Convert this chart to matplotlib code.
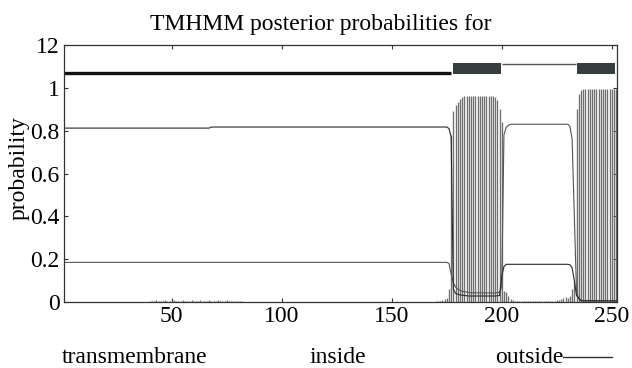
import matplotlib
matplotlib.use("Agg")
import matplotlib.pyplot as plt
from matplotlib.patches import Rectangle

# ---------------- data ----------------
# transmembrane posterior probability (impulses) per sequence position
noise_pos = list(range(40, 83))
noise_val = [0.006, 0.007, 0.006, 0.008, 0.007, 0.006, 0.007, 0.008, 0.006, 0.007,
             0.006, 0.008, 0.007, 0.006, 0.007, 0.008, 0.006, 0.007, 0.006, 0.008,
             0.007, 0.006, 0.007, 0.008, 0.006, 0.007, 0.006, 0.008, 0.007, 0.006,
             0.007, 0.008, 0.006, 0.007, 0.006, 0.008, 0.007, 0.006, 0.007, 0.006,
             0.005, 0.005, 0.004]
tm_pos = list(range(170, 253))
tm_val = [0.003, 0.004, 0.005, 0.008, 0.012, 0.02, 0.06,                 # 170-176
          0.78, 0.89, 0.92, 0.935, 0.95, 0.955,                          # 177-182
          0.96, 0.96, 0.96, 0.96, 0.96, 0.96, 0.96, 0.96, 0.96, 0.96,    # 183-192
          0.96, 0.96, 0.96, 0.96, 0.955, 0.945, 0.90, 0.84,              # 193-200
          0.05, 0.045, 0.03, 0.015, 0.01,                                # 201-205
          0.004, 0.005, 0.004, 0.006, 0.004, 0.005, 0.004, 0.006, 0.004, 0.005,  # 206-215
          0.004, 0.006, 0.004, 0.005, 0.004, 0.006, 0.004, 0.005, 0.006, 0.008,  # 216-225
          0.01, 0.015, 0.02, 0.025, 0.02, 0.03, 0.06, 0.10,              # 226-233
          0.90, 0.97, 0.99,                                              # 234-236
          0.995, 0.995, 0.995, 0.995, 0.995, 0.995, 0.995, 0.995, 0.995, 0.995,  # 237-246
          0.995, 0.995, 0.995, 0.995, 0.995, 0.995]                      # 247-252

# inside probability line (break points)
inside_x = [1, 67, 68, 175, 176, 177, 178, 179, 181, 185, 197, 199, 200, 201, 202,
            230, 231, 232, 233, 234, 236, 252]
inside_y = [0.812, 0.812, 0.817, 0.817, 0.81, 0.77, 0.06, 0.04, 0.033, 0.028, 0.028,
            0.03, 0.12, 0.165, 0.176, 0.176, 0.174, 0.16, 0.10, 0.03, 0.006, 0.005]

# outside probability line (break points)
outside_x = [1, 175, 176, 177, 178, 179, 180, 182, 186, 197, 199, 200, 201, 202, 203,
             204, 230, 231, 232, 233, 234, 235, 237, 252]
outside_y = [0.185, 0.185, 0.18, 0.13, 0.09, 0.07, 0.06, 0.05, 0.043, 0.042, 0.045,
             0.07, 0.78, 0.815, 0.825, 0.83, 0.83, 0.82, 0.76, 0.40, 0.05, 0.015,
             0.005, 0.005]

# predicted topology shown at the top
inside_seg = (1, 176.8)
outside_seg = (200.3, 233.8)
tm_segs = [(177.7, 199.7), (234.3, 251.6)]

x_ticks = [50, 100, 150, 200, 250]
y_ticks = [0, 0.2, 0.4, 0.6, 0.8, 1.0, 1.2]
y_tick_labels = ["0", "0.2", "0.4", "0.6", "0.8", "1", "12"]

title = "TMHMM posterior probabilities for"
legend_labels = ["transmembrane", "inside", "outside"]

# ---------------- drawing ----------------
plt.rcParams['font.family'] = ['Liberation Serif', 'DejaVu Serif']
FS = 17

fig = plt.figure(figsize=(6.32, 3.68), dpi=100)
ax = fig.add_axes([64 / 632, 1 - 302 / 368, (617 - 64) / 632, (302 - 45) / 368])

ax.vlines(noise_pos, 0, noise_val, color='#6e6e6e', linewidth=0.95)
ax.vlines(tm_pos, 0, tm_val, color='#6e6e6e', linewidth=0.95)
ax.plot(outside_x, outside_y, color='#555555', linewidth=0.8)
ax.plot(inside_x, inside_y, color='#2a2a2a', linewidth=0.8)

# topology
ax.plot(inside_seg, [1.07, 1.07], color='#111111', linewidth=2.4, solid_capstyle='butt')
ax.plot(outside_seg, [1.11, 1.11], color='#555555', linewidth=1.0, solid_capstyle='butt')
for s, e in tm_segs:
    ax.add_patch(Rectangle((s, 1.065), e - s, 0.05, facecolor='#363e3e',
                           edgecolor='none'))

ax.set_xlim(1, 252.4)
ax.set_ylim(0, 1.2)
ax.set_xticks(x_ticks)
ax.set_xticklabels([str(t) for t in x_ticks])
ax.set_yticks(y_ticks)
ax.set_yticklabels(y_tick_labels)
ax.tick_params(direction='in', length=3, width=0.8, top=True, right=True,
               labelsize=FS, pad=3, color='#333333')
for sp in ax.spines.values():
    sp.set_linewidth(0.9)
    sp.set_color('#333333')

fig.text(321 / 632, 1 - 30 / 368, title, ha='center', va='baseline', fontsize=FS)
fig.text(19 / 632, 1 - 168 / 368, "probability", rotation=90, ha='center',
         va='center', fontsize=FS)

fig.text(61.7 / 632, 1 - 363 / 368, legend_labels[0], ha='left', va='baseline', fontsize=FS)
fig.text(310 / 632, 1 - 363 / 368, legend_labels[1], ha='left', va='baseline', fontsize=FS)
fig.text(495 / 632, 1 - 363 / 368, legend_labels[2], ha='left', va='baseline', fontsize=FS)
fig.add_artist(plt.Line2D([563 / 632, 612 / 632], [1 - 357 / 368, 1 - 357 / 368],
                          transform=fig.transFigure, color='#333333', linewidth=1.0))

fig.savefig("out.png", dpi=100)
